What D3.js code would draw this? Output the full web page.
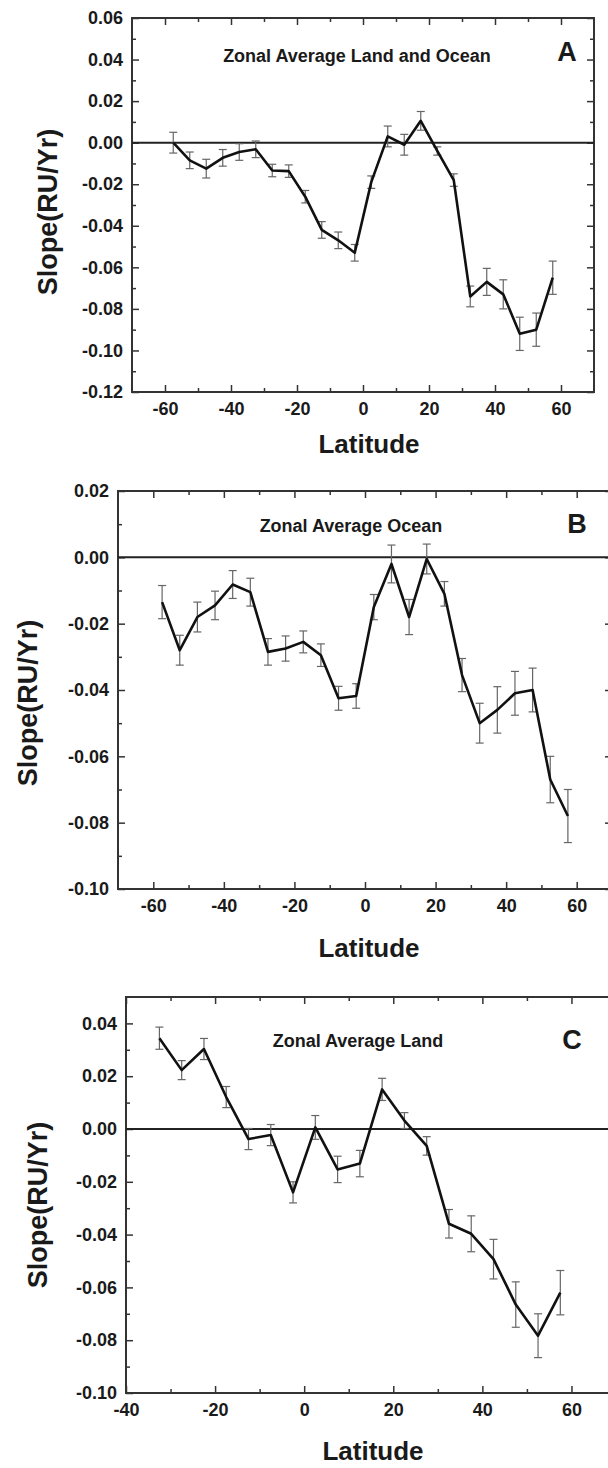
<!DOCTYPE html>
<html>
<head>
<meta charset="utf-8">
<script src="https://cdn.jsdelivr.net/npm/d3@7"></script>
<style>
  body { margin: 0; background: #fff; }
  svg { display: block; }
  text { font-family: "Liberation Sans", Arial, sans-serif; font-weight: bold; fill: #1a1a1a; }
</style>
</head>
<body>
<div id="chart"></div>
<script>
// latitude bin centres (deg)
var latsA = [-57.5,-52.5,-47.5,-42.5,-37.5,-32.5,-27.5,-22.5,-17.5,-12.5,-7.5,-2.5,2.5,7.5,12.5,17.5,22.5,27.5,32.5,37.5,42.5,47.5,52.5,57.5];
var slopeA = [0.000,-0.0085,-0.0125,-0.0073,-0.0045,-0.0032,-0.0134,-0.0137,-0.026,-0.042,-0.047,-0.053,-0.019,0.003,-0.001,0.0105,-0.004,-0.018,-0.074,-0.067,-0.073,-0.092,-0.090,-0.065];
var errA = [0.005,0.004,0.0045,0.004,0.004,0.004,0.003,0.003,0.003,0.004,0.004,0.004,0.003,0.005,0.005,0.0045,0.002,0.003,0.005,0.0065,0.007,0.008,0.008,0.008];

var latsB = [-57.5,-52.5,-47.5,-42.5,-37.5,-32.5,-27.5,-22.5,-17.5,-12.5,-7.5,-2.5,2.5,7.5,12.5,17.5,22.5,27.5,32.5,37.5,42.5,47.5,52.5,57.5];
var slopeB = [-0.0135,-0.028,-0.018,-0.0145,-0.0082,-0.0105,-0.0285,-0.0275,-0.0255,-0.0295,-0.0425,-0.0418,-0.015,-0.002,-0.018,-0.0005,-0.011,-0.0355,-0.050,-0.046,-0.041,-0.040,-0.067,-0.078];
var errB = [0.005,0.0045,0.0045,0.0043,0.0042,0.0042,0.004,0.0038,0.0033,0.0034,0.0036,0.0037,0.0038,0.0057,0.0053,0.0045,0.0037,0.005,0.006,0.007,0.0066,0.0066,0.007,0.008];

var latsC = [-32.5,-27.5,-22.5,-17.5,-12.5,-7.5,-2.5,2.5,7.5,12.5,17.5,22.5,27.5,32.5,37.5,42.5,47.5,52.5,57.5];
var slopeC = [0.0344,0.0223,0.0303,0.0121,-0.0038,-0.0023,-0.024,0.0006,-0.0153,-0.0131,0.015,0.0032,-0.0064,-0.0359,-0.0397,-0.0493,-0.0665,-0.0783,-0.062];
var errC = [0.0042,0.0036,0.004,0.004,0.004,0.004,0.004,0.0045,0.005,0.005,0.0042,0.003,0.0035,0.0054,0.0068,0.0075,0.0086,0.0083,0.0084];

// tick values
var yTicksA = [-0.12,-0.10,-0.08,-0.06,-0.04,-0.02,0.00,0.02,0.04,0.06];
var yTicksB = [-0.10,-0.08,-0.06,-0.04,-0.02,0.00,0.02];
var yTicksC = [-0.10,-0.08,-0.06,-0.04,-0.02,0.00,0.02,0.04];
var xTicksAB = [-60,-40,-20,0,20,40,60];
var xTicksC = [-40,-20,0,20,40,60];

var titles = ["Zonal Average Land and Ocean", "Zonal Average Ocean", "Zonal Average Land"];
var letters = ["A", "B", "C"];

var W = 608, H = 1468;
var svg = d3.select("#chart").append("svg").attr("width", W).attr("height", H);

var panels = [
  {lats: latsA, vals: slopeA, errs: errA, yTicks: yTicksA, xTicks: xTicksAB,
   xd: [-70,70], yd: [-0.12,0.06], box: {l:132, r:594, t:18, b:392},
   title: titles[0], tpos: [357,62], letter: letters[0], lpos: [567,61],
   ylab: [47,212], xlabY: 453},
  {lats: latsB, vals: slopeB, errs: errB, yTicks: yTicksB, xTicks: xTicksAB,
   xd: [-70,70], yd: [-0.10,0.02], box: {l:118, r:612, t:491, b:889},
   title: titles[1], tpos: [351,532], letter: letters[1], lpos: [577,533],
   ylab: [27,703], xlabY: 957},
  {lats: latsC, vals: slopeC, errs: errC, yTicks: yTicksC, xTicks: xTicksC,
   xd: [-40,70], yd: [-0.10,0.05], box: {l:126, r:616, t:997, b:1393},
   title: titles[2], tpos: [358,1047], letter: letters[2], lpos: [572,1049],
   ylab: [37,1205], xlabY: 1460}
];

function minors(ticks, step){
  // midpoints between major ticks, plus one beyond ends
  var out = [];
  var s = ticks[1]-ticks[0];
  for(var i=-1;i<ticks.length;i++){
    out.push(ticks[0] + s*i + s/2);
  }
  return out;
}

panels.forEach(function(p){
  var g = svg.append("g");
  var x = d3.scaleLinear().domain(p.xd).range([p.box.l, p.box.r]);
  var y = d3.scaleLinear().domain(p.yd).range([p.box.b, p.box.t]);

  var xMin = minors(p.xTicks).filter(function(d){ return d > p.xd[0] && d < p.xd[1]; });
  var yMin = minors(p.yTicks).filter(function(d){ return d > p.yd[0]+1e-9 && d < p.yd[1]-1e-9; });

  function tickAxis(axis, vals, size, pad, fmt){
    return axis.tickValues(vals).tickSizeInner(size).tickSizeOuter(0).tickPadding(pad).tickFormat(fmt);
  }
  var none = function(){ return ""; };

  // bottom axis with labels
  var bx = g.append("g").attr("transform", "translate(0," + p.box.b + ")")
    .call(tickAxis(d3.axisBottom(x), p.xTicks, -7, 9, function(d){ return String(d); }));
  g.append("g").attr("transform", "translate(0," + p.box.b + ")")
    .call(tickAxis(d3.axisBottom(x), xMin, -4, 0, none));
  // top axis
  g.append("g").attr("transform", "translate(0," + p.box.t + ")")
    .call(tickAxis(d3.axisTop(x), p.xTicks, -7, 0, none));
  g.append("g").attr("transform", "translate(0," + p.box.t + ")")
    .call(tickAxis(d3.axisTop(x), xMin, -4, 0, none));
  // left axis with labels
  var ly = g.append("g").attr("transform", "translate(" + p.box.l + ",0)")
    .call(tickAxis(d3.axisLeft(y), p.yTicks, -7, 9, function(d){ return d.toFixed(2); }));
  g.append("g").attr("transform", "translate(" + p.box.l + ",0)")
    .call(tickAxis(d3.axisLeft(y), yMin, -4, 0, none));
  // right axis
  g.append("g").attr("transform", "translate(" + p.box.r + ",0)")
    .call(tickAxis(d3.axisRight(y), p.yTicks, -7, 0, none));
  g.append("g").attr("transform", "translate(" + p.box.r + ",0)")
    .call(tickAxis(d3.axisRight(y), yMin, -4, 0, none));

  g.selectAll(".domain").remove();
  g.selectAll(".tick line").attr("stroke", "#333").attr("stroke-width", 1.5);
  g.selectAll(".tick text").attr("font-size", 18).attr("font-family", null).attr("fill", "#1a1a1a");
  bx.selectAll(".tick text").attr("dy", "0.78em");

  // frame
  g.append("rect")
    .attr("x", p.box.l).attr("y", p.box.t)
    .attr("width", p.box.r - p.box.l).attr("height", p.box.b - p.box.t)
    .attr("fill", "none").attr("stroke", "#333").attr("stroke-width", 2);

  // zero line
  g.append("line")
    .attr("x1", p.box.l).attr("x2", p.box.r)
    .attr("y1", y(0)).attr("y2", y(0))
    .attr("stroke", "#222").attr("stroke-width", 2);

  var pts = p.lats.map(function(d,i){ return {lat: d, v: p.vals[i], e: p.errs[i]}; });

  // error bars
  var eb = g.selectAll(".err").data(pts).enter().append("g").attr("class", "err")
    .attr("stroke", "#666").attr("stroke-width", 1.2);
  eb.append("line")
    .attr("x1", function(d){ return x(d.lat); }).attr("x2", function(d){ return x(d.lat); })
    .attr("y1", function(d){ return y(d.v + d.e); }).attr("y2", function(d){ return y(d.v - d.e); });
  eb.append("line")
    .attr("x1", function(d){ return x(d.lat) - 4; }).attr("x2", function(d){ return x(d.lat) + 4; })
    .attr("y1", function(d){ return y(d.v + d.e); }).attr("y2", function(d){ return y(d.v + d.e); });
  eb.append("line")
    .attr("x1", function(d){ return x(d.lat) - 4; }).attr("x2", function(d){ return x(d.lat) + 4; })
    .attr("y1", function(d){ return y(d.v - d.e); }).attr("y2", function(d){ return y(d.v - d.e); });

  // series line
  var line = d3.line().x(function(d){ return x(d.lat); }).y(function(d){ return y(d.v); });
  g.append("path").datum(pts)
    .attr("d", line).attr("fill", "none")
    .attr("stroke", "#111").attr("stroke-width", 2.6).attr("stroke-linejoin", "round");

  // titles
  g.append("text").attr("x", p.tpos[0]).attr("y", p.tpos[1])
    .attr("text-anchor", "middle").attr("font-size", 18).text(p.title);
  g.append("text").attr("x", p.lpos[0]).attr("y", p.lpos[1])
    .attr("text-anchor", "middle").attr("font-size", 27).text(p.letter);

  // axis titles
  g.append("text")
    .attr("x", (p.box.l + Math.min(p.box.r, 608)) / 2 + 6)
    .attr("y", p.xlabY).attr("text-anchor", "middle").attr("font-size", 26)
    .text("Latitude");
  g.append("text")
    .attr("transform", "translate(" + p.ylab[0] + "," + p.ylab[1] + ") rotate(-90)")
    .attr("dy", "0.36em").attr("text-anchor", "middle").attr("font-size", 27)
    .text("Slope(RU/Yr)");
});
</script>
</body>
</html>
